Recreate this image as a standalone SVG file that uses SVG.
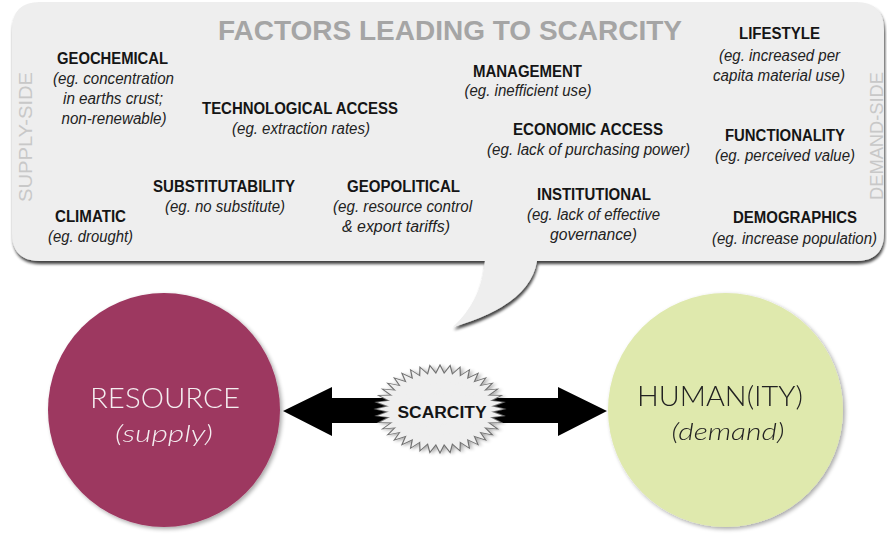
<svg xmlns="http://www.w3.org/2000/svg" xmlns:xlink="http://www.w3.org/1999/xlink" width="887" height="534" viewBox="0 0 887 534">
<defs>
<filter id="sh" x="-10%" y="-10%" width="120%" height="130%">
<feGaussianBlur in="SourceAlpha" stdDeviation="1.6"/>
<feOffset dx="1" dy="3" result="b"/>
<feComponentTransfer><feFuncA type="linear" slope="0.75"/></feComponentTransfer>
<feMerge><feMergeNode/><feMergeNode in="SourceGraphic"/></feMerge>
</filter>
<filter id="csh" x="-10%" y="-10%" width="125%" height="125%">
<feGaussianBlur in="SourceAlpha" stdDeviation="2"/>
<feOffset dx="2" dy="2"/>
<feComponentTransfer><feFuncA type="linear" slope="0.35"/></feComponentTransfer>
<feMerge><feMergeNode/><feMergeNode in="SourceGraphic"/></feMerge>
</filter>
<polygon id="rh" points="63,0 0,22.2 -63,0 0,-22.2"/>
<g id="spikes">
<use xlink:href="#rh"/>
<use xlink:href="#rh" transform="rotate(9)"/>
<use xlink:href="#rh" transform="rotate(18)"/>
<use xlink:href="#rh" transform="rotate(27)"/>
<use xlink:href="#rh" transform="rotate(36)"/>
<use xlink:href="#rh" transform="rotate(45)"/>
<use xlink:href="#rh" transform="rotate(54)"/>
<use xlink:href="#rh" transform="rotate(63)"/>
<use xlink:href="#rh" transform="rotate(72)"/>
<use xlink:href="#rh" transform="rotate(81)"/>
<use xlink:href="#rh" transform="rotate(90)"/>
<use xlink:href="#rh" transform="rotate(99)"/>
<use xlink:href="#rh" transform="rotate(108)"/>
<use xlink:href="#rh" transform="rotate(117)"/>
<use xlink:href="#rh" transform="rotate(126)"/>
<use xlink:href="#rh" transform="rotate(135)"/>
<use xlink:href="#rh" transform="rotate(144)"/>
<use xlink:href="#rh" transform="rotate(153)"/>
<use xlink:href="#rh" transform="rotate(162)"/>
<use xlink:href="#rh" transform="rotate(171)"/>
</g>
</defs>
<style>
.h{font-family:"Liberation Sans Narrow","Liberation Sans",Arial,sans-serif;font-weight:bold;font-size:16px;fill:#151515;text-anchor:middle}
.e{font-family:"Liberation Sans Narrow","Liberation Sans",Arial,sans-serif;font-style:italic;font-size:16px;fill:#222;text-anchor:middle}
.side{font-family:"Liberation Sans",Arial,sans-serif;font-size:18px;fill:#c8c8c8;text-anchor:middle}
.title{font-family:"Liberation Sans",Arial,sans-serif;font-weight:bold;font-size:28px;fill:#a5a5a5;text-anchor:middle}
.big{font-family:Lato,"Open Sans",sans-serif;font-weight:300;font-size:27px;text-anchor:middle}
.sub{font-family:Lato,"Open Sans",sans-serif;font-weight:300;font-style:italic;font-size:24px;text-anchor:middle}
</style>
<rect width="887" height="534" fill="#ffffff"/>

<g id="factors">
<path d="M40,2 H856 Q884,2 884,30 V233 Q884,261 856,261 H537 Q530,305 453,327 Q482,300 485,261 H40 Q12,261 12,233 V30 Q12,2 40,2 Z" fill="#eeeeee" filter="url(#sh)"/>
<text class="title" x="450" y="40" textLength="464" lengthAdjust="spacingAndGlyphs">FACTORS LEADING TO SCARCITY</text>
<text class="side" transform="translate(32,137) rotate(-90)" textLength="130" lengthAdjust="spacingAndGlyphs">SUPPLY-SIDE</text>
<text class="side" transform="translate(883,136) rotate(-90)" textLength="128" lengthAdjust="spacingAndGlyphs">DEMAND-SIDE</text>

<g id="geochemical">
<text class="h" x="112.5" y="64" textLength="111" lengthAdjust="spacingAndGlyphs">GEOCHEMICAL</text>
<text class="e" x="113.5" y="84" textLength="121" lengthAdjust="spacingAndGlyphs">(eg. concentration</text>
<text class="e" x="113" y="104" textLength="100" lengthAdjust="spacingAndGlyphs">in earths crust;</text>
<text class="e" x="114" y="124" textLength="105" lengthAdjust="spacingAndGlyphs">non-renewable)</text>
</g>
<g id="technological">
<text class="h" x="300" y="114" textLength="196" lengthAdjust="spacingAndGlyphs">TECHNOLOGICAL ACCESS</text>
<text class="e" x="301" y="134" textLength="138" lengthAdjust="spacingAndGlyphs">(eg. extraction rates)</text>
</g>
<g id="substitutability">
<text class="h" x="224" y="192" textLength="142" lengthAdjust="spacingAndGlyphs">SUBSTITUTABILITY</text>
<text class="e" x="225" y="212" textLength="120" lengthAdjust="spacingAndGlyphs">(eg. no substitute)</text>
</g>
<g id="climatic">
<text class="h" x="90.5" y="222" textLength="71" lengthAdjust="spacingAndGlyphs">CLIMATIC</text>
<text class="e" x="90.5" y="242" textLength="85" lengthAdjust="spacingAndGlyphs">(eg. drought)</text>
</g>
<g id="geopolitical">
<text class="h" x="403.5" y="192" textLength="113" lengthAdjust="spacingAndGlyphs">GEOPOLITICAL</text>
<text class="e" x="402.5" y="212" textLength="139" lengthAdjust="spacingAndGlyphs">(eg. resource control</text>
<text class="e" x="396" y="232" textLength="108" lengthAdjust="spacingAndGlyphs">&amp; export tariffs)</text>
</g>
<g id="management">
<text class="h" x="527.5" y="77" textLength="109" lengthAdjust="spacingAndGlyphs">MANAGEMENT</text>
<text class="e" x="528" y="96" textLength="127" lengthAdjust="spacingAndGlyphs">(eg. inefficient use)</text>
</g>
<g id="economic">
<text class="h" x="588" y="135" textLength="150" lengthAdjust="spacingAndGlyphs">ECONOMIC ACCESS</text>
<text class="e" x="588.5" y="155" textLength="203" lengthAdjust="spacingAndGlyphs">(eg. lack of purchasing power)</text>
</g>
<g id="institutional">
<text class="h" x="594" y="200" textLength="114" lengthAdjust="spacingAndGlyphs">INSTITUTIONAL</text>
<text class="e" x="593.5" y="220" textLength="133" lengthAdjust="spacingAndGlyphs">(eg. lack of effective</text>
<text class="e" x="593.5" y="240" textLength="87" lengthAdjust="spacingAndGlyphs">governance)</text>
</g>
<g id="lifestyle">
<text class="h" x="779.5" y="39" textLength="81" lengthAdjust="spacingAndGlyphs">LIFESTYLE</text>
<text class="e" x="779.5" y="61" textLength="121" lengthAdjust="spacingAndGlyphs">(eg. increased per</text>
<text class="e" x="779" y="81" textLength="132" lengthAdjust="spacingAndGlyphs">capita material use)</text>
</g>
<g id="functionality">
<text class="h" x="785" y="141" textLength="120" lengthAdjust="spacingAndGlyphs">FUNCTIONALITY</text>
<text class="e" x="785" y="161" textLength="140" lengthAdjust="spacingAndGlyphs">(eg. perceived value)</text>
</g>
<g id="demographics">
<text class="h" x="795" y="223" textLength="124" lengthAdjust="spacingAndGlyphs">DEMOGRAPHICS</text>
<text class="e" x="794.5" y="244" textLength="165" lengthAdjust="spacingAndGlyphs">(eg. increase population)</text>
</g>
</g>

<g id="resource" filter="url(#csh)">
<ellipse cx="164" cy="410" rx="116" ry="117" fill="#9d3760"/>
<text class="big" x="165" y="408" fill="#f4eef0" textLength="150" lengthAdjust="spacingAndGlyphs">RESOURCE</text>
<text class="sub" x="164" y="442" fill="#f4eef0" textLength="98" lengthAdjust="spacingAndGlyphs">(supply)</text>
</g>

<g id="humanity" filter="url(#csh)">
<ellipse cx="725.5" cy="410" rx="117.5" ry="117" fill="#dfe9ad"/>
<text class="big" x="720" y="406" fill="#222" textLength="166" lengthAdjust="spacingAndGlyphs">HUMAN(ITY)</text>
<text class="sub" x="728" y="440" fill="#222" textLength="113" lengthAdjust="spacingAndGlyphs">(demand)</text>
</g>

<g id="connectors">
<polygon points="283,411 332,387 332,398 558,398 558,387 607,411 558,436 558,423 332,423 332,436" fill="#000"/>
</g>

<g id="scarcity">
<g transform="translate(440,409) scale(1,0.68)">
<use xlink:href="#spikes" fill="#efefef" stroke="#707070" stroke-width="2.4" vector-effect="non-scaling-stroke" filter="url(#csh)"/>
<use xlink:href="#spikes" fill="#efefef"/>
</g>
<text class="h" x="442" y="418" font-size="18" textLength="89" lengthAdjust="spacingAndGlyphs">SCARCITY</text>
</g>
</svg>
